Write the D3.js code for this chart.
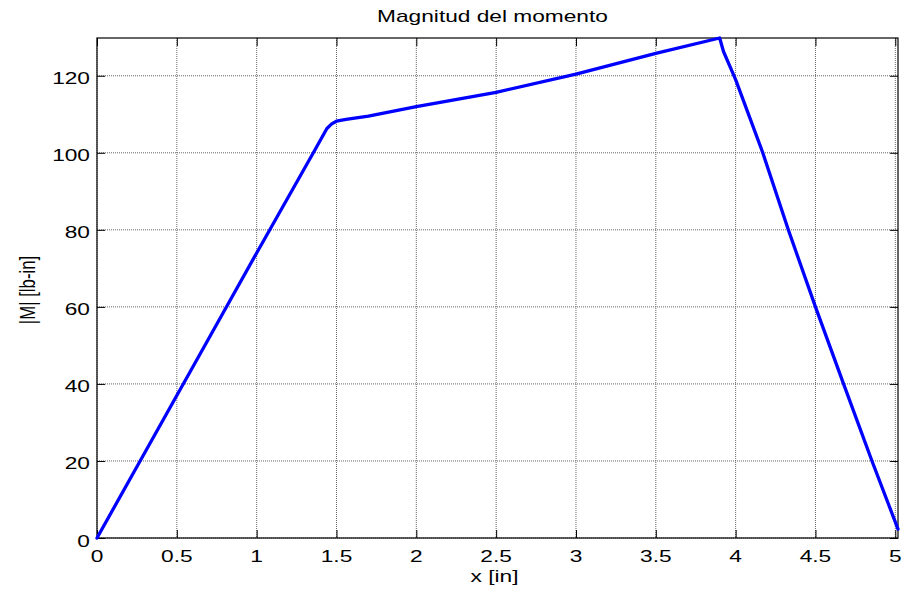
<!DOCTYPE html>
<html>
<head>
<meta charset="utf-8">
<script src="https://cdn.jsdelivr.net/npm/d3@7"></script>
<style>
  body { margin: 0; background: #fff; }
  text { font-family: "Liberation Sans", Arial, sans-serif; fill: #000; }
</style>
</head>
<body>
<div id="chart"></div>
<script>
// x positions [in] and moment magnitude [lb-in]
const xs = [0, 0.27, 0.7, 1.0, 1.355, 1.44, 1.47, 1.5, 1.56, 1.7, 2.0, 2.5, 3.0, 3.5, 3.9, 3.924, 4.0, 4.17, 4.33, 4.5, 4.676, 4.854, 5.017];
const moment = [0, 20, 51.8, 74, 100, 106.3, 107.5, 108.2, 108.7, 109.5, 112, 115.7, 120.4, 125.8, 129.8, 126.3, 119, 100, 80, 60, 40, 20, 2.3];
const xTicks = [0, 0.5, 1, 1.5, 2, 2.5, 3, 3.5, 4, 4.5, 5];
const yTicks = [0, 20, 40, 60, 80, 100, 120];
const title = "Magnitud del momento";
const xLabel = "x [in]";
const yLabel = "|M| [lb-in]";

const W = 904, H = 594;
const margin = { top: 38, right: 6, bottom: 56, left: 97 };
const width = W - margin.left - margin.right;
const height = H - margin.top - margin.bottom;
const stretch = 1.42; // the picture's text is wider than normal

const x = d3.scaleLinear().domain([0, 5.017]).range([0, width]);
const y = d3.scaleLinear().domain([0, 129.8]).range([height, 0]);

const svg = d3.select("#chart").append("svg")
    .attr("width", W)
    .attr("height", H);

const g = svg.append("g")
    .attr("transform", `translate(${margin.left}, ${margin.top})`);

// dotted grid
g.selectAll(".vgrid").data(xTicks).enter().append("line")
    .attr("x1", d => x(d)).attr("x2", d => x(d))
    .attr("y1", 0).attr("y2", height)
    .attr("stroke", "#666").attr("stroke-width", 1)
    .attr("stroke-dasharray", "1,1");
g.selectAll(".hgrid").data(yTicks).enter().append("line")
    .attr("x1", 0).attr("x2", width)
    .attr("y1", d => y(d)).attr("y2", d => y(d))
    .attr("stroke", "#666").attr("stroke-width", 1)
    .attr("stroke-dasharray", "1,1");

// inward ticks on all four sides, labels drawn separately
const tickLen = 8;
const bottomAxis = d3.axisBottom(x).tickValues(xTicks).tickSizeInner(-tickLen).tickSizeOuter(0).tickFormat("");
const topAxis = d3.axisTop(x).tickValues(xTicks).tickSizeInner(-tickLen).tickSizeOuter(0).tickFormat("");
const leftAxis = d3.axisLeft(y).tickValues(yTicks).tickSizeInner(-tickLen).tickSizeOuter(0).tickFormat("");
const rightAxis = d3.axisRight(y).tickValues(yTicks).tickSizeInner(-tickLen).tickSizeOuter(0).tickFormat("");

g.append("g").attr("transform", `translate(0, ${height})`).call(bottomAxis);
g.append("g").call(topAxis);
g.append("g").call(leftAxis);
g.append("g").attr("transform", `translate(${width}, 0)`).call(rightAxis);
g.selectAll(".domain").remove();
g.selectAll(".tick line").attr("stroke", "#000").attr("stroke-width", 1);

// box
g.append("rect")
    .attr("x", 0).attr("y", 0)
    .attr("width", width).attr("height", height)
    .attr("fill", "none").attr("stroke", "#000").attr("stroke-width", 1.2);

// the curve
const pts = xs.map((d, i) => [d, moment[i]]);
const line = d3.line().x(d => x(d[0])).y(d => y(d[1]));
g.append("path")
    .datum(pts)
    .attr("d", line)
    .attr("fill", "none")
    .attr("stroke", "#0000ff")
    .attr("stroke-width", 3.3)
    .attr("stroke-linejoin", "round")
    .attr("stroke-linecap", "round");

// tick labels
g.selectAll(".xlab").data(xTicks).enter().append("text")
    .attr("transform", d => `translate(${x(d)}, ${height + 23.5}) scale(${stretch}, 1)`)
    .attr("text-anchor", "middle")
    .style("font-size", "16px")
    .text(d => d3.format("~g")(d));

g.selectAll(".ylab").data(yTicks).enter().append("text")
    .attr("transform", d => `translate(-7, ${y(d) + 8.5}) scale(${stretch}, 1)`)
    .attr("text-anchor", "end")
    .style("font-size", "16px")
    .text(d => d);

// titles
svg.append("text")
    .attr("transform", `translate(${margin.left + width / 2 - 5}, 21.5) scale(${stretch}, 1)`)
    .attr("text-anchor", "middle")
    .style("font-size", "16px")
    .text(title);

svg.append("text")
    .attr("transform", `translate(${margin.left + width / 2 - 3}, 582) scale(${stretch}, 1)`)
    .attr("text-anchor", "middle")
    .style("font-size", "16px")
    .text(xLabel);

svg.append("text")
    .attr("transform", `translate(35, 290) rotate(-90) scale(1.05, ${stretch})`)
    .attr("text-anchor", "middle")
    .style("font-size", "16px")
    .text(yLabel);
</script>
</body>
</html>
